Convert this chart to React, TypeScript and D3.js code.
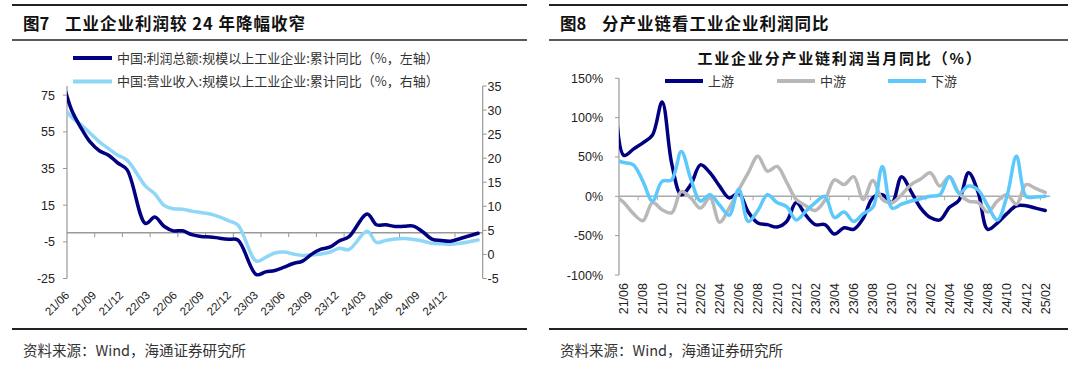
import React from 'react';
import * as d3 from 'd3';

// ---- 图7: cumulative YoY (profit on left axis, revenue on right axis)
const leftMonths = [
  '21/05', '21/06', '21/07', '21/08', '21/09', '21/10', '21/11', '21/12',
  '22/02', '22/03', '22/04', '22/05', '22/06', '22/07', '22/08', '22/09', '22/10', '22/11', '22/12',
  '23/02', '23/03', '23/04', '23/05', '23/06', '23/07', '23/08', '23/09', '23/10', '23/11', '23/12',
  '24/02', '24/03', '24/04', '24/05', '24/06', '24/07', '24/08', '24/09', '24/10', '24/11', '24/12',
  '25/02',
];
const profitCum = [
  83.4, 66.9, 57.3, 49.5, 44.7, 42.2, 38.0, 34.3,
  5.0, 8.5, 3.5, 1.0, 1.0, -1.1, -2.1, -2.3, -3.0, -3.6, -4.0,
  -22.9, -21.4, -20.6, -18.8, -16.8, -15.5, -11.7, -9.0, -7.8, -4.4, -2.3,
  10.2, 4.3, 4.3, 3.4, 3.5, 3.6, 0.5, -3.5, -4.3, -4.7, -3.3,
  -0.3,
];
const revenueCum = [
  31.0, 28.5, 27.0, 25.2, 23.4, 22.0, 20.6, 19.6,
  14.2, 12.6, 10.2, 9.5, 9.4, 9.0, 8.7, 8.4, 7.8, 7.0, 6.1,
  -1.4, -0.6, 0.3, 0.5, 0.1, -0.2, -0.1, 0.1, 0.5, 1.3, 1.0,
  4.8, 2.5, 2.9, 3.2, 3.3, 3.1, 2.8, 2.3, 2.2, 2.1, 2.3,
  3.0,
];
const leftTickLabels = ['21/06', '21/09', '21/12', '22/03', '22/06', '22/09', '22/12', '23/03', '23/06', '23/09', '23/12', '24/03', '24/06', '24/09', '24/12'];
const leftAxisTicks = [75, 55, 35, 15, -5, -25];
const rightAxisTicks = [35, 30, 25, 20, 15, 10, 5, 0, -5];

// ---- 图8: monthly YoY by industry chain
const chainMonths = [
  '21/05', '21/06', '21/07', '21/08', '21/09', '21/10', '21/11', '21/12',
  '22/01', '22/02', '22/03', '22/04', '22/05', '22/06', '22/07', '22/08', '22/09', '22/10', '22/11', '22/12',
  '23/01', '23/02', '23/03', '23/04', '23/05', '23/06', '23/07', '23/08', '23/09', '23/10', '23/11', '23/12',
  '24/01', '24/02', '24/03', '24/04', '24/05', '24/06', '24/07', '24/08', '24/09', '24/10', '24/11', '24/12',
  '25/01', '25/02',
];
const upstream = [
  150, 52, 60, 68, 78, 120, 42, 2,
  15, 40, 30, 13, -2, 4, -20, -34, -36, -39, -32, -8,
  -24, -36, -36, -48, -40, -42, -28, -2, 2, -8, 25, 6,
  -15, -27, -30, -14, -5, 30, 5, -42, -34, -22, -12, -12,
  -15, -18,
];
const midstream = [
  2, -8, -22, -31, -8, -17, -21, 6,
  -2, -15, -2, -33, -15, 8, 30, 51, 32, 38, 18, -4,
  -12, -18, -5, 21, 15, 25, -4, 20, -4, -8, 2, 15,
  22, 30, 13, 25, 4, -6, -8, -20, -6, 2, -10, 15,
  10, 5,
];
const downstream = [
  46, 43, 40, 19, -6, 19, 21, 57,
  22, -6, 2, -11, -24, 9, -32, -18, 2, -8, -13, -30,
  -19, -8, 0, -27, -20, -32, -22, -14, 38, -15, -10, -6,
  -3, 0, 2, 25, 4, 13, 8, -12, -30, 0, 51, 0,
  -1, 0,
];
const chainTickLabels = ['21/06', '21/08', '21/10', '21/12', '22/02', '22/04', '22/06', '22/08', '22/10', '22/12', '23/02', '23/04', '23/06', '23/08', '23/10', '23/12', '24/02', '24/04', '24/06', '24/08', '24/10', '24/12', '25/02'];
const pctTicks = [150, 100, 50, 0, -50, -100];
const chainSeries = [
  { name: '上游', values: upstream, color: '#000080' },
  { name: '中游', values: midstream, color: '#b8b8b8' },
  { name: '下游', values: downstream, color: '#5cc8fb' },
];

// months counted from 21/06 (= 0)
const monthIdx = (s: string) => {
  const [y, m] = s.split('/').map(Number);
  return (y - 21) * 12 + (m - 6);
};

const CN = '"Noto Sans CJK SC", "Noto Sans", sans-serif';
const NUM = '"Liberation Sans", Arial, sans-serif';

function Frame({ x0, x1, title }: { x0: number; x1: number; title: [string, string] }) {
  return (
    <g>
      <line x1={x0} x2={x1} y1={5} y2={5} stroke="#222" strokeWidth={2} />
      <text x={x0 + 11} y={29.5} fontFamily={CN} fontWeight="bold" fontSize={16.5} fill="#111">{title[0]}</text>
      <text x={x0 + 53} y={29.5} fontFamily={CN} fontWeight="bold" fontSize={16.5} letterSpacing={1} fill="#111">{title[1]}</text>
      <line x1={x0} x2={x1} y1={40} y2={40} stroke="#222" strokeWidth={1.5} />
      <line x1={x0} x2={x1} y1={329} y2={329} stroke="#222" strokeWidth={2} />
      <text x={x0 + 11} y={356} fontFamily={CN} fontSize={14.5} fill="#333">资料来源：Wind，海通证券研究所</text>
    </g>
  );
}

function LeftChart() {
  const x = d3.scaleLinear().domain([0, 45]).range([67, 482.7]);
  const yL = d3.scaleLinear().domain([-25, 80]).range([278.5, 86]);
  const yR = d3.scaleLinear().domain([-5, 35]).range([278.5, 86]);
  const curve = d3.curveCatmullRom.alpha(0.5);
  const px = (i: number) => x(monthIdx(leftMonths[i]) + 0.5);
  const profitLine = d3.line<number>().x((_, i) => px(i)).y(d => yL(d)).curve(curve);
  const revenueLine = d3.line<number>().x((_, i) => px(i)).y(d => yR(d)).curve(curve);
  const [top, bottom] = [yL.range()[1], yL.range()[0]];
  return (
    <g>
      <defs>
        <clipPath id="clipL">
          <rect x={x(0)} y={top - 10} width={x(45) - x(0)} height={bottom - top + 14} />
        </clipPath>
      </defs>
      {/* legend */}
      <line x1={73} x2={112} y1={58} y2={58} stroke="#000080" strokeWidth={4} />
      <text x={117} y={62.5} fontFamily={CN} fontSize={13} fill="#333">中国:利润总额:规模以上工业企业:累计同比（%，左轴）</text>
      <line x1={73} x2={112} y1={81.5} y2={81.5} stroke="#8ed7f7" strokeWidth={4} />
      <text x={117} y={86} fontFamily={CN} fontSize={13} fill="#333">中国:营业收入:规模以上工业企业:累计同比（%，右轴）</text>

      {/* left axis */}
      <line x1={x(0)} x2={x(0)} y1={top} y2={bottom} stroke="#999" strokeWidth={1.2} />
      {leftAxisTicks.map(t => (
        <g key={t}>
          <line x1={x(0) - 4} x2={x(0)} y1={yL(t)} y2={yL(t)} stroke="#999" />
          <text x={55} y={yL(t) + 4.5} textAnchor="end" fontFamily={NUM} fontSize={12.5} fill="#222">{t}</text>
        </g>
      ))}
      {/* right axis */}
      <line x1={x(45)} x2={x(45)} y1={top} y2={bottom} stroke="#999" strokeWidth={1.2} />
      {rightAxisTicks.map(t => (
        <g key={t}>
          <line x1={x(45)} x2={x(45) + 4} y1={yR(t)} y2={yR(t)} stroke="#999" />
          <text x={487.5} y={yR(t) + 4.5} fontFamily={NUM} fontSize={12.5} fill="#222">{t}</text>
        </g>
      ))}
      {/* zero line with month ticks */}
      <line x1={x(0)} x2={x(45)} y1={yL(0)} y2={yL(0)} stroke="#999" strokeWidth={1.5} />
      {leftTickLabels.map(l => {
        const idx = monthIdx(l);
        const xx = x(idx);
        // labels drift slightly left of their ticks, as in the original
        const lx = xx + 3 - idx * 0.25;
        return (
          <g key={l}>
            {idx > 0 && <line x1={xx} x2={xx} y1={yL(0)} y2={yL(0) + 4.5} stroke="#999" />}
            <text transform={`translate(${lx},${bottom + 17.5}) rotate(-45)`} textAnchor="end" fontFamily={NUM} fontSize={11.5} fill="#222">{l}</text>
          </g>
        );
      })}

      <g clipPath="url(#clipL)">
        <path d={revenueLine(revenueCum) || ''} fill="none" stroke="#8ed7f7" strokeWidth={3.5} strokeLinejoin="round" strokeLinecap="round" />
        <path d={profitLine(profitCum) || ''} fill="none" stroke="#000080" strokeWidth={3.5} strokeLinejoin="round" strokeLinecap="round" />
      </g>
    </g>
  );
}

function RightChart() {
  const x = d3.scaleLinear().domain([0, 45]).range([619, 1050]);
  const y = d3.scaleLinear().domain([-100, 150]).range([275, 78.3]);
  const curve = d3.curveCatmullRom.alpha(0.5);
  const line = d3.line<number>().x((_, i) => x(monthIdx(chainMonths[i]) + 0.5)).y(d => y(d)).curve(curve);
  const evenTicks = d3.range(2, 45, 2);
  return (
    <g>
      <defs>
        <clipPath id="clipR">
          <rect x={x(0)} y={70} width={x(45) - x(0) + 4} height={212} />
        </clipPath>
      </defs>
      <text x={840} y={64} textAnchor="middle" fontFamily={CN} fontWeight="bold" fontSize={15} letterSpacing={1.8} fill="#111">工业企业分产业链利润当月同比（%）</text>
      {chainSeries.map((s, i) => {
        const lx = [665, 777, 888][i];
        return (
          <g key={s.name}>
            <line x1={lx} x2={lx + 38} y1={81} y2={81} stroke={s.color} strokeWidth={4} />
            <text x={lx + 43} y={85.5} fontFamily={CN} fontSize={13} fill="#333">{s.name}</text>
          </g>
        );
      })}

      <line x1={x(0)} x2={x(0)} y1={y(150)} y2={y(-100)} stroke="#999" strokeWidth={1.2} />
      {pctTicks.map(t => (
        <g key={t}>
          <line x1={x(0) - 4} x2={x(0)} y1={y(t)} y2={y(t)} stroke="#999" />
          <text x={603} y={y(t) + 4.5} textAnchor="end" fontFamily={NUM} fontSize={12.5} fill="#222">{t}%</text>
        </g>
      ))}
      <line x1={x(0)} x2={x(45)} y1={y(0)} y2={y(0)} stroke="#aaa" strokeWidth={1.5} />
      {evenTicks.map(t => (
        <line key={t} x1={x(t)} x2={x(t)} y1={y(0)} y2={y(0) + 4} stroke="#aaa" />
      ))}
      {chainTickLabels.map(l => {
        const xx = x(monthIdx(l) + 0.5);
        return (
          <text key={l} transform={`translate(${xx + 4.5},${283}) rotate(-90)`} textAnchor="end" fontFamily={NUM} fontSize={12.5} fill="#222">{l}</text>
        );
      })}

      <g clipPath="url(#clipR)">
        {chainSeries.map(s => (
          <path key={s.name} d={line(s.values) || ''} fill="none" stroke={s.color} strokeWidth={3.5} strokeLinejoin="round" strokeLinecap="round" />
        ))}
      </g>
    </g>
  );
}

export default function App() {
  return (
    <svg width={1080} height={371} style={{ position: 'absolute', left: 0, top: 0, background: '#fff' }}>
      <Frame x0={12} x1={527} title={['图7', '工业企业利润较 24 年降幅收窄']} />
      <Frame x0={549} x1={1068} title={['图8', '分产业链看工业企业利润同比']} />
      <LeftChart />
      <RightChart />
    </svg>
  );
}
